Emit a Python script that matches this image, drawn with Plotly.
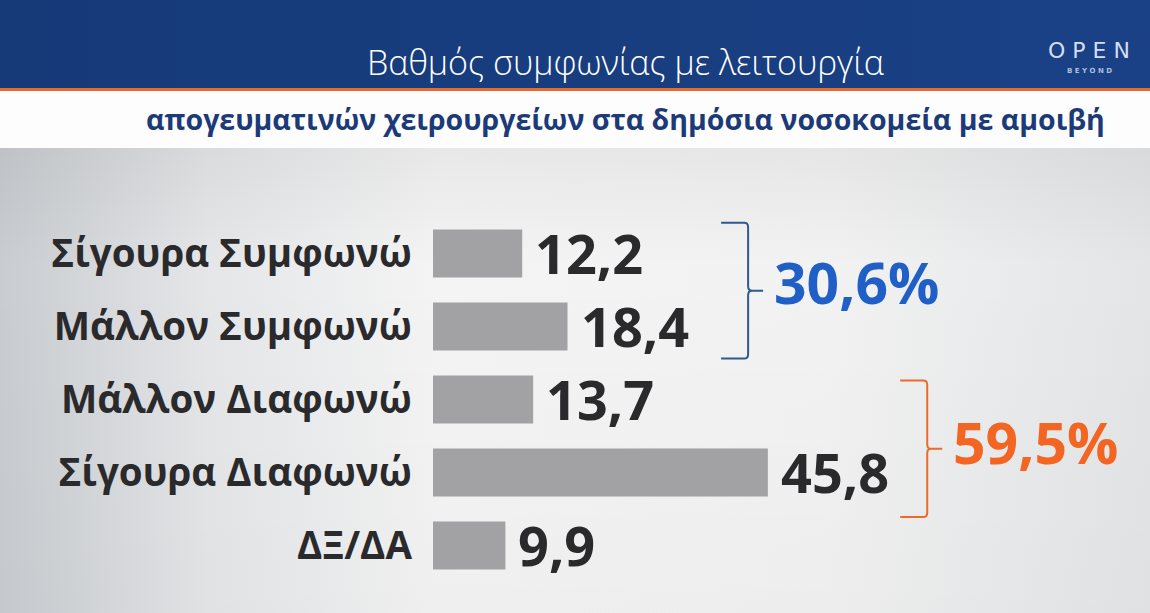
import base64
import plotly.graph_objects as go

# ---------------- data ----------------
categories = ["Σίγουρα Συμφωνώ", "Μάλλον Συμφωνώ", "Μάλλον Διαφωνώ", "Σίγουρα Διαφωνώ", "ΔΞ/ΔΑ"]
values = [12.2, 18.4, 13.7, 45.8, 9.9]
group_members = [[0, 1], [2, 3]]
group_totals = [30.6, 59.5]
title_text = "Βαθμός συμφωνίας με λειτουργία"
subtitle_text = "απογευματινών χειρουργείων στα δημόσια νοσοκομεία με αμοιβή"

# ---------------- layout constants ----------------
W, H = 1150, 613
ML, MR, MT, MB = 433, 59, 217, 31
PW, PH = W - ML - MR, H - MT - MB
group_colors = ["#2f5a8f", "#ec6a2c"]
total_colors = ["#1f5fc6", "#f26522"]
bracket_x = [43.1, 67.6]          # data units along x
bracket_pad_top = [0.42, 0.26]
bracket_pad_bot = [0.44, 0.61]
bar_color = "#a2a1a3"
text_dark = "#2a2a2c"
FONT = "Open Sans"


def fmt(v):
    return f"{v:.1f}".replace(".", ",")


def px_x(px):
    return (px - ML) / PW


def px_y(py):
    return (H - MB - py) / PH


# background svg (header band + gradient body)
svg = f"""<svg xmlns='http://www.w3.org/2000/svg' width='{W}' height='{H}' viewBox='0 0 {W} {H}' preserveAspectRatio='none'>
<defs>
<linearGradient id='g' x1='0' y1='0' x2='1' y2='0'>
<stop offset='0' stop-color='#c9ccd0'/>
<stop offset='0.18' stop-color='#e4e6e8'/>
<stop offset='0.38' stop-color='#f4f4f4'/>
<stop offset='0.72' stop-color='#f2f2f2'/>
<stop offset='1' stop-color='#e3e5e7'/>
</linearGradient>
<linearGradient id='v' x1='0' y1='0' x2='0' y2='1'>
<stop offset='0' stop-color='#000000' stop-opacity='0.05'/>
<stop offset='0.25' stop-color='#000000' stop-opacity='0'/>
<stop offset='1' stop-color='#000000' stop-opacity='0.02'/>
</linearGradient>
<linearGradient id='n' x1='0' y1='0' x2='1' y2='0'>
<stop offset='0' stop-color='#163a78'/>
<stop offset='1' stop-color='#1a4186'/>
</linearGradient>
</defs>
<rect x='0' y='0' width='{W}' height='{H}' fill='url(#g)'/>
<rect x='0' y='148' width='{W}' height='{H-148}' fill='url(#v)'/>
<rect x='0' y='0' width='{W}' height='88' fill='url(#n)'/>
<rect x='0' y='88' width='{W}' height='3' fill='#e8692d'/>
<rect x='0' y='91' width='{W}' height='57' fill='#fdfdfd'/>
</svg>"""
src = "data:image/svg+xml;base64," + base64.b64encode(svg.encode("utf-8")).decode()

ypos = list(range(len(categories)))

fig = go.Figure()
fig.add_trace(go.Bar(
    x=values, y=ypos, orientation="h", width=0.66,
    marker=dict(color=bar_color, line=dict(width=0)),
    hoverinfo="skip",
))

annotations = []
# value labels
for v, yy in zip(values, ypos):
    annotations.append(dict(
        x=v, y=yy, xref="x", yref="y", text=f"<b>{fmt(v)}</b>",
        xanchor="left", yanchor="middle", xshift=11, yshift=1, showarrow=False,
        font=dict(family=FONT, size=54, color=text_dark),
    ))

shapes = []
total_yshift = [9, 7]
for gi, members in enumerate(group_members):
    y0 = members[0] - bracket_pad_top[gi]
    y1 = members[-1] + bracket_pad_bot[gi]
    ym = (y0 + y1) / 2
    c = group_colors[gi]
    d = 0.06
    path = (f"M -27,{y0} L -4,{y0} Q 0,{y0} 0,{y0 + d} "
            f"L 0,{ym - d} Q 0,{ym} 4,{ym} L 15,{ym} M 4,{ym} Q 0,{ym} 0,{ym + d} "
            f"L 0,{y1 - d} Q 0,{y1} -4,{y1} L -27,{y1}")
    shapes.append(dict(
        type="path", xref="x", yref="y", xsizemode="pixel", xanchor=bracket_x[gi],
        path=path, line=dict(color=c, width=2), layer="above",
    ))
    annotations.append(dict(
        x=bracket_x[gi], y=ym, xref="x", yref="y", text=f"<b>{fmt(group_totals[gi])}%</b>",
        xanchor="left", yanchor="middle", xshift=24, yshift=total_yshift[gi], showarrow=False,
        font=dict(family=FONT, size=57, color=total_colors[gi]),
    ))

# header texts
annotations.append(dict(
    x=px_x(625), y=px_y(62), xref="paper", yref="paper", text=title_text,
    xanchor="center", yanchor="middle", showarrow=False,
    font=dict(family=FONT, size=34, color="#ffffff", weight=300),
))
annotations.append(dict(
    x=px_x(625), y=px_y(119), xref="paper", yref="paper", text=f"<b>{subtitle_text}</b>",
    xanchor="center", yanchor="middle", showarrow=False,
    font=dict(family=FONT, size=28.5, color="#1c3a78"),
))
annotations.append(dict(
    x=px_x(1089), y=px_y(50), xref="paper", yref="paper", text="O P E N",
    xanchor="center", yanchor="middle", showarrow=False,
    font=dict(family="DejaVu Sans", size=22, color="#d3def2"),
))
annotations.append(dict(
    x=px_x(1089), y=px_y(71), xref="paper", yref="paper", text="<b>B E Y O N D</b>",
    xanchor="center", yanchor="middle", showarrow=False,
    font=dict(family="DejaVu Sans", size=7, color="#aebfdc"),
))

fig.update_layout(
    width=W, height=H,
    margin=dict(l=ML, r=MR, t=MT, b=MB, pad=0),
    paper_bgcolor="#eeeeee", plot_bgcolor="rgba(0,0,0,0)",
    showlegend=False,
    images=[dict(
        source=src, xref="paper", yref="paper",
        x=-ML / PW, y=1 + MT / PH, sizex=W / PW, sizey=H / PH,
        xanchor="left", yanchor="top", sizing="stretch", layer="below",
    )],
    xaxis=dict(range=[0, 90], visible=False, showgrid=False, zeroline=False, fixedrange=True),
    yaxis=dict(
        range=[len(categories) - 0.5, -0.5], tickvals=ypos, ticktext=[f"<b>{c}</b>" for c in categories],
        showgrid=False, zeroline=False, showline=False, ticks="", ticklabelstandoff=20,
        tickfont=dict(family=FONT, size=38.5, color=text_dark), fixedrange=True,
    ),
    annotations=annotations,
    shapes=shapes,
)

fig.write_html(
    "out.html",
    config={"displayModeBar": False},
    post_script="document.body.style.margin='0';document.body.style.overflow='hidden';",
)
